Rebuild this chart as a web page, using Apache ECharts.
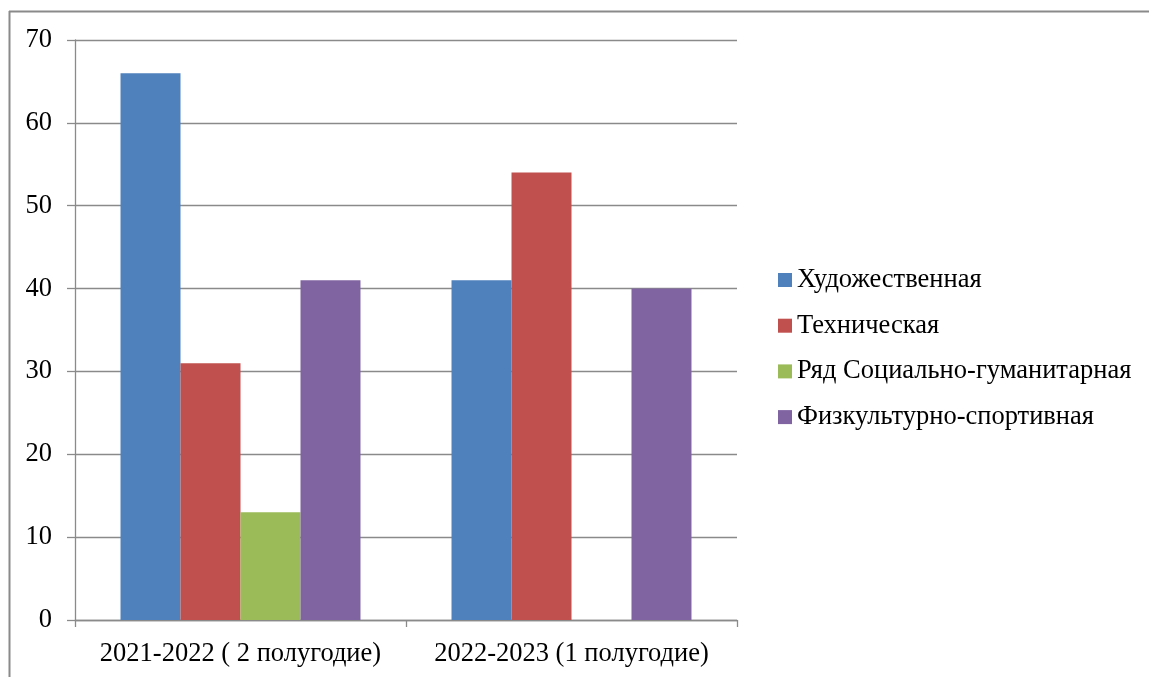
<!DOCTYPE html>
<html>
<head>
<meta charset="utf-8">
<script src="https://cdn.jsdelivr.net/npm/echarts@6/dist/echarts.min.js"></script>
<style>html,body{margin:0;padding:0;background:#fff}#c{width:1149px;height:677px}</style>
</head>
<body>
<div id="c"></div>
<script>
const categories = ['2021-2022 ( 2 полугодие)', '2022-2023 (1 полугодие)'];
const seriesNames = ['Художественная', 'Техническая', 'Ряд Социально-гуманитарная', 'Физкультурно-спортивная'];
const artValues = [66, 41];
const techValues = [31, 54];
const socialValues = [13, null];
const sportValues = [41, 40];
const yTicks = [0, 10, 20, 30, 40, 50, 60, 70];

const colors = ['#4F81BD', '#C0504D', '#9BBB59', '#8064A2'];
const font = '"Liberation Serif", "Times New Roman", serif';
const allValues = [artValues, techValues, socialValues, sportValues];

const chart = echarts.init(document.getElementById('c'), null, {renderer: 'canvas'});
chart.setOption({
  animation: false,
  color: colors,
  graphic: [
    {type: 'line', shape: {x1: 9.5, y1: 11, x2: 9.5, y2: 677}, style: {stroke: '#8a8a8a', lineWidth: 2}},
    {type: 'line', shape: {x1: 9, y1: 11.5, x2: 1149, y2: 11.5}, style: {stroke: '#8a8a8a', lineWidth: 2}}
  ],
  grid: {left: 75, right: 412, top: 40, bottom: 57, containLabel: false},
  legend: {
    orient: 'vertical',
    left: 778,
    top: 266.5,
    padding: 0,
    itemWidth: 14,
    itemHeight: 14,
    itemGap: 18.7,
    icon: 'rect',
    textStyle: {fontFamily: font, fontSize: 26.5, color: '#000', lineHeight: 27, padding: [0, 0, 0, 0]},
    data: seriesNames
  },
  xAxis: {
    type: 'category',
    data: categories,
    axisLine: {lineStyle: {color: '#8a8a8a', width: 1.3}},
    axisTick: {show: true, length: 7, lineStyle: {color: '#8a8a8a', width: 1.3}},
    axisLabel: {interval: 0, hideOverlap: false, fontFamily: font, fontSize: 26.5, color: '#000', margin: 21}
  },
  yAxis: {
    type: 'value',
    min: yTicks[0],
    max: yTicks[yTicks.length - 1],
    interval: 10,
    axisLine: {show: true, lineStyle: {color: '#8a8a8a', width: 1.3}},
    axisTick: {show: true, length: 8, lineStyle: {color: '#8a8a8a', width: 1.3}},
    axisLabel: {fontFamily: font, fontSize: 26.5, color: '#000', margin: 23},
    splitLine: {show: true, lineStyle: {color: '#8a8a8a', width: 1.3}}
  },
  series: seriesNames.map((n, i) => ({
    name: n,
    type: 'bar',
    data: allValues[i],
    barGap: '0%',
    barCategoryGap: '27.5%',
    itemStyle: {color: colors[i]}
  }))
});
</script>
</body>
</html>
